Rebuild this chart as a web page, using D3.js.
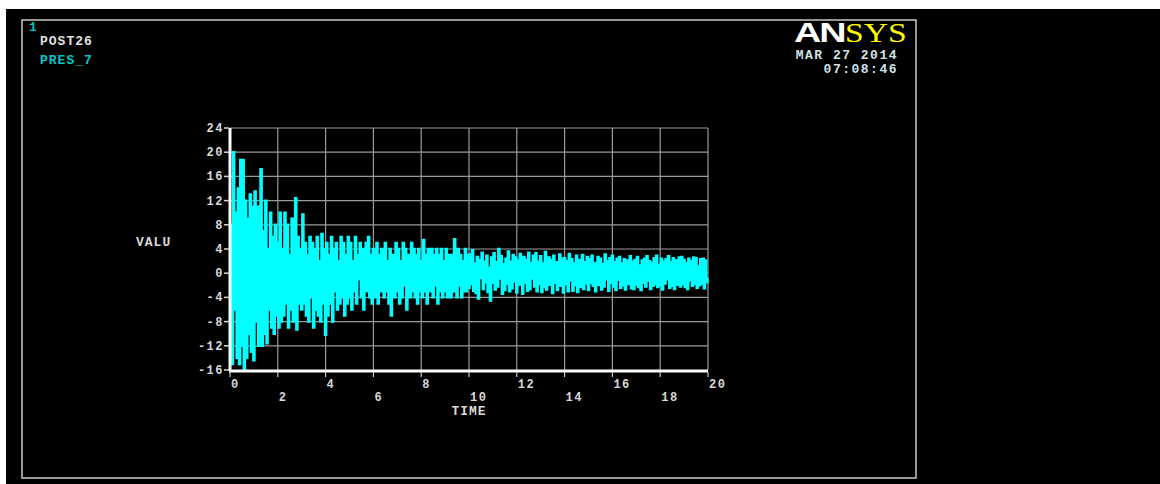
<!DOCTYPE html>
<html>
<head>
<meta charset="utf-8">
<script src="https://cdn.jsdelivr.net/npm/d3@7"></script>
<style>
  body { margin: 0; background: #fff; }
  text { font-family: "Courier New", "Liberation Mono", monospace; font-weight: bold; }
</style>
</head>
<body>
<div id="myViz"></div>
<script>
// tick labels
var yTicks = [-16, -12, -8, -4, 0, 4, 8, 12, 16, 20, 24];
var xTicksTop = [0, 4, 8, 12, 16, 20];
var xTicksLow = [2, 6, 10, 14, 18];

var timeStep = 0.05;
var pres0to4 = [
  2, 8, -15, 20, -6, 10, -14, 14, -15, 18.7, -12, 18.7, -16, 12, -14, 9, -10, 13, -13, 11,
  -14.4, 13.5, -8, 11, -12, 9, 17.2, -12, 7, -10, 12, -11.6, 4, -6, 10, -9, 6, -10, 8, -7,
  5, -9, 10, -8, 4, -7, 10, -5, 8, -9, 3, -6, 9, -8, 5, 12.4, -9.3, 6, -5, 4,
  -6, 9.7, -5, 5, -7, 3, -8, 6, -4, 5, -9, 4, -6, 6, -7, 2, -8, 6.5, -5, 4
];
var pres4to10 = [
  -10.2, 5, -7, 3, -5, 6, -8, 4, -3, 5, -6, 2, -5, 6, -4, 5, -7, 3, -5, 6,
  -4, 5, -6, 2, -3, 6, -5, 3, -1, 5, -4, 4, -6, 1, 5, -3, 6, -4, 3, -5,
  4, -4, 2, 5, -5, 3, -3, 4, -1, -4, 5, -3, 2, -5, 4, -7, 3, 1, -4, 5,
  -3, 4, -5, 2, -4, 5, -2, 4, -6, 3, 1, -4, 5, -3, 4, -4, 3, -5, 4, -3,
  2, -4, 5.5, -3, 3, -5, 4, 0, -3, 4, -4, 3, -2, 4, -5, 3, -3, 4, -4, 2,
  -3, 4, -4, 3, -2, -4, 3, -3, 5.6, -3, -4, 4, -2, 3, -4, 2, -3, 4, -3, 3
];
var pres10to20 = [
  -2.4, 3.1, -1.8, 3.8, -2.9, 1.6, -3.3, 2.7, -4.2, 2.2, -0.8, 3.4, -2.6, 1.9, -1.5, 2.9, -3.1, 0.9, -4.5, 2.6,
  -1.6, 3.3, -2.7, 1.8, -2.2, 4.0, -0.9, 2.8, -3.4, 1.5, -2.8, 2.4, -1.7, 3.6, -3.0, 1.9, -2.5, 3.0, -1.4, 2.6,
  -3.2, 2.1, -1.9, 3.2, 0.8, -3.4, 2.7, -1.6, 2.2, -2.9, 3.4, -2.6, 1.7, -0.9, 2.9, -2.2, 3.3, -3.0, 1.9, -1.8,
  2.8, -3.1, 1.6, -2.3, 3.5, -2.7, 1.1, 2.6, -1.9, 2.2, -3.3, 2.9, -1.6, 1.8, -2.8, 0.9, 3.1, -2.1, 2.4, -3.2,
  2.5, -1.8, 2.0, -3.0, 3.2, -1.2, 2.3, -2.9, 1.6, -2.0, 2.9, -3.1, 2.2, 0.4, -2.3, 3.0, -2.6, 1.8, -1.7, 2.7,
  -2.8, 2.3, -1.6, 2.9, -2.1, 1.7, -3.0, 1.2, 2.7, -1.9, 2.4, -2.7, 1.5, -2.2, 3.1, -1.0, 2.0, -2.9, 2.5, -1.6,
  2.9, -2.2, 1.8, -2.8, 2.4, -1.1, 2.7, -2.4, 1.6, -2.0, 2.3, -2.7, 1.2, 2.1, -1.8, 2.8, -2.5, 1.9, -2.6, 2.2,
  -1.9, 2.7, -2.3, 1.3, -2.8, 2.1, -1.6, 2.4, -2.2, 2.8, -1.2, 2.0, -2.6, 1.7, -2.1, 2.5, -1.8, 2.9, -2.3, 1.4,
  -2.0, 2.4, -2.7, 1.9, -1.7, 2.3, -1.0, 2.8, -2.4, 1.8, -2.1, 2.5, -2.6, 1.3, 2.1, -1.9, 2.6, -2.2, 2.7, -1.8,
  2.2, -2.3, 1.7, -2.6, 2.4, -1.2, 2.0, -2.1, 2.6, -1.8, 2.5, -2.4, 1.1, -2.0, 2.3, -1.7, 2.4, -2.5, 2.1, -1.5,
  -0.8
];

var values = pres0to4.concat(pres4to10, pres10to20);
var data = values.map((v, i) => ({t: i * timeStep, v: v}));

var svg = d3.select("#myViz")
  .append("svg")
  .attr("width", 1160)
  .attr("height", 484);

// black screen + frame
svg.append("rect").attr("x", 6).attr("y", 9).attr("width", 1154).attr("height", 475).attr("fill", "#000");
svg.append("rect").attr("x", 22).attr("y", 20).attr("width", 894).attr("height", 458)
  .attr("fill", "none").attr("stroke", "#c8c8c8").attr("stroke-width", 1.5);

var x = d3.scaleLinear().domain([0, 20]).range([230, 708]);
var y = d3.scaleLinear().domain([-16, 24]).range([370, 128]);

// grid
var grid = svg.append("g").attr("stroke", "#9a9a9a").attr("stroke-width", 1.2);
grid.selectAll(".gx").data(d3.range(2, 21, 2)).enter().append("line")
  .attr("x1", d => x(d)).attr("x2", d => x(d)).attr("y1", y(24)).attr("y2", y(-16));
grid.selectAll(".gy").data(yTicks.slice(1)).enter().append("line")
  .attr("y1", d => y(d)).attr("y2", d => y(d)).attr("x1", x(0)).attr("x2", x(20));

// signal
svg.append("path")
  .datum(data)
  .attr("fill", "none")
  .attr("stroke", "#00ffff")
  .attr("stroke-width", 2.4)
  .attr("stroke-linejoin", "miter")
  .attr("d", d3.line().x(d => x(d.t)).y(d => y(d.v)).curve(d3.curveStep));

// axes (white, thick)
svg.append("line").attr("x1", x(0)).attr("x2", x(0)).attr("y1", y(24)).attr("y2", y(-16) + 1)
  .attr("stroke", "#fff").attr("stroke-width", 3);
svg.append("line").attr("x1", x(0) - 1).attr("x2", x(20)).attr("y1", y(-16) + 1).attr("y2", y(-16) + 1)
  .attr("stroke", "#fff").attr("stroke-width", 3);

var lab = {fill: "#d8d8d8", size: 12, ls: 1.5};

// y tick labels
svg.selectAll(".yl").data(yTicks).enter().append("text")
  .attr("x", 224).attr("y", d => y(d) + 4)
  .attr("text-anchor", "end")
  .attr("fill", lab.fill).attr("font-size", lab.size).attr("letter-spacing", lab.ls)
  .text(d => d);
svg.selectAll(".yt").data(yTicks).enter().append("line")
  .attr("x1", 224).attr("x2", 229).attr("y1", d => y(d)).attr("y2", d => y(d))
  .attr("stroke", "#d8d8d8").attr("stroke-width", 1.5);

// x ticks + labels
svg.selectAll(".xt").data(d3.range(0, 21, 2)).enter().append("line")
  .attr("x1", d => x(d)).attr("x2", d => x(d)).attr("y1", 372).attr("y2", 377)
  .attr("stroke", "#c8c8c8").attr("stroke-width", 1.2);
svg.selectAll(".xl1").data(xTicksTop).enter().append("text")
  .attr("x", d => x(d) + 1).attr("y", 388)
  .attr("fill", lab.fill).attr("font-size", lab.size).attr("letter-spacing", lab.ls)
  .text(d => d);
svg.selectAll(".xl2").data(xTicksLow).enter().append("text")
  .attr("x", d => x(d) + 1).attr("y", 401)
  .attr("fill", lab.fill).attr("font-size", lab.size).attr("letter-spacing", lab.ls)
  .text(d => d);

svg.append("text").attr("x", 469).attr("y", 415).attr("text-anchor", "middle")
  .attr("fill", lab.fill).attr("font-size", 13).attr("letter-spacing", 1).text("TIME");
svg.append("text").attr("x", 136).attr("y", 246)
  .attr("fill", lab.fill).attr("font-size", 13).attr("letter-spacing", 1).text("VALU");

// header texts
svg.append("text").attr("x", 29).attr("y", 31).attr("fill", "#00c0c0").attr("font-size", 13).text("1");
svg.append("text").attr("x", 40).attr("y", 45).attr("fill", "#e0e0e0").attr("font-size", 13).attr("letter-spacing", 1).text("POST26");
svg.append("text").attr("x", 40).attr("y", 64).attr("fill", "#00c8c8").attr("font-size", 13).attr("letter-spacing", 1).text("PRES_7");

svg.append("text").attr("x", 898).attr("y", 59).attr("text-anchor", "end")
  .attr("fill", "#d0e4e4").attr("font-size", 13).attr("letter-spacing", 1.5).text("MAR 27 2014");
svg.append("text").attr("x", 898).attr("y", 73).attr("text-anchor", "end")
  .attr("fill", "#d0e4e4").attr("font-size", 13).attr("letter-spacing", 1.5).text("07:08:46");

// logo
svg.append("text")
  .attr("transform", "translate(794,42) scale(1.4,1)")
  .style("font-family", "'Liberation Sans', Arial, sans-serif").style("font-weight", "900")
  .attr("font-size", 27).attr("fill", "#fff").attr("letter-spacing", -1.5).text("AN");
svg.append("text")
  .attr("transform", "translate(845,42) scale(1.2,1)")
  .style("font-family", "'Liberation Serif', 'Times New Roman', serif").style("font-weight", "normal")
  .attr("font-size", 28).attr("fill", "#ffff00").text("SYS");
</script>
</body>
</html>
